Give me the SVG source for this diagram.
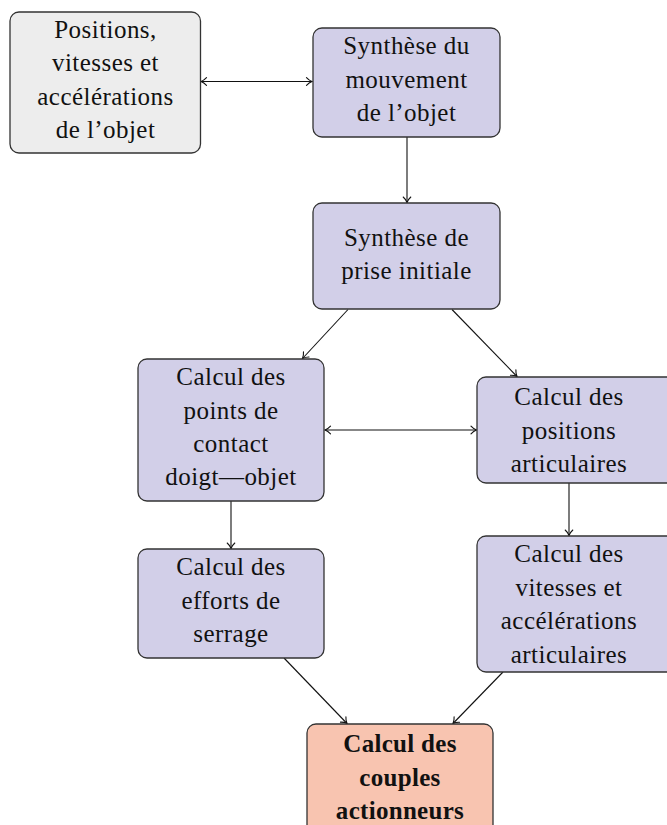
<svg xmlns="http://www.w3.org/2000/svg" width="667" height="825" viewBox="0 0 667 825">
<style>
.box{stroke:#333;stroke-width:1.3}
.gray{fill:#EDEDED}
.lav{fill:#D2CFE8}
.sal{fill:#F8C4B0}
text{font-family:"Liberation Serif","Times New Roman",serif;font-size:25px;fill:#111;text-anchor:middle;letter-spacing:0.45px}
.b{font-weight:bold;letter-spacing:0.3px}
.c line{stroke:#111;stroke-width:1.1}
</style>
<defs>
<marker id="ah" viewBox="-7 -5 8 10" refX="0" refY="0" markerWidth="8" markerHeight="10" markerUnits="userSpaceOnUse" orient="auto-start-reverse">
<path d="M-5.5,-3.8 C-3.5,-1.6 -1.2,-0.4 0,0 C-1.2,0.4 -3.5,1.6 -5.5,3.8" fill="none" stroke="#111" stroke-width="1.1" stroke-linecap="round"/>
</marker>
</defs>
<g class="c">
<line x1="201" y1="81.5" x2="312" y2="81.5" marker-start="url(#ah)" marker-end="url(#ah)"/>
<line x1="407" y1="137" x2="407" y2="202.5" marker-end="url(#ah)"/>
<line x1="348" y1="309.5" x2="302.5" y2="358.5" marker-end="url(#ah)"/>
<line x1="452" y1="309.5" x2="517" y2="376.5" marker-end="url(#ah)"/>
<line x1="325" y1="430" x2="476.5" y2="430" marker-start="url(#ah)" marker-end="url(#ah)"/>
<line x1="231" y1="501" x2="231" y2="548.5" marker-end="url(#ah)"/>
<line x1="569" y1="483" x2="569" y2="535.5" marker-end="url(#ah)"/>
<line x1="284" y1="658" x2="347" y2="723.5" marker-end="url(#ah)"/>
<line x1="503" y1="672" x2="453" y2="723.5" marker-end="url(#ah)"/>
</g>
<g id="nodeA">
<rect class="box gray" x="10" y="12" width="190.5" height="141" rx="9"/>
<text x="105.5" y="37.5">Positions,</text>
<text x="105.5" y="71">vitesses et</text>
<text x="105.5" y="104.5">accélérations</text>
<text x="105.5" y="138">de l’objet</text>
</g>
<g id="nodeB">
<rect class="box lav" x="313" y="28" width="187" height="109" rx="9"/>
<text x="406.5" y="54">Synthèse du</text>
<text x="406.5" y="87.5">mouvement</text>
<text x="406.5" y="120.5">de l’objet</text>
</g>
<g id="nodeC">
<rect class="box lav" x="313" y="203" width="187" height="106" rx="9"/>
<text x="406.5" y="245.5">Synthèse de</text>
<text x="406.5" y="278.5">prise initiale</text>
</g>
<g id="nodeD">
<rect class="box lav" x="138" y="359" width="186" height="142" rx="9"/>
<text x="231" y="385">Calcul des</text>
<text x="231" y="418.5">points de</text>
<text x="231" y="452">contact</text>
<text x="231" y="485">doigt—objet</text>
</g>
<g id="nodeE">
<rect class="box lav" x="477" y="377" width="200" height="106" rx="9"/>
<text x="569" y="405">Calcul des</text>
<text x="569" y="438.5">positions</text>
<text x="569" y="472">articulaires</text>
</g>
<g id="nodeF">
<rect class="box lav" x="138" y="549" width="186" height="109" rx="9"/>
<text x="231" y="575">Calcul des</text>
<text x="231" y="609">efforts de</text>
<text x="231" y="642">serrage</text>
</g>
<g id="nodeG">
<rect class="box lav" x="477" y="536" width="200" height="136" rx="9"/>
<text x="569" y="562">Calcul des</text>
<text x="569" y="596">vitesses et</text>
<text x="569" y="629">accélérations</text>
<text x="569" y="663">articulaires</text>
</g>
<g id="nodeH">
<rect class="box sal" x="307" y="724" width="186" height="120" rx="9"/>
<text class="b" x="400" y="752">Calcul des</text>
<text class="b" x="400" y="786">couples</text>
<text class="b" x="400" y="819">actionneurs</text>
</g>
</svg>
